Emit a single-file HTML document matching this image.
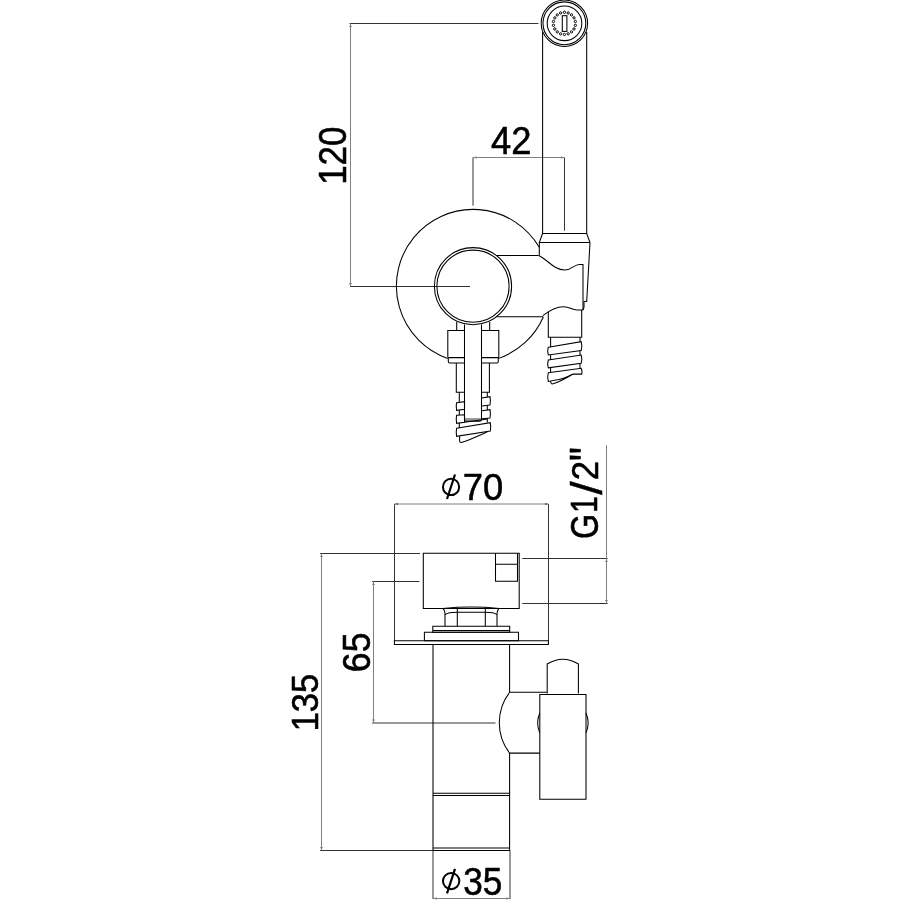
<!DOCTYPE html>
<html><head><meta charset="utf-8">
<style>
html,body{margin:0;padding:0;background:#fff;}
svg{display:block;will-change:transform;}
text{font-family:"Liberation Sans",sans-serif;fill:#000;stroke:#000;stroke-width:0.55px;vector-effect:non-scaling-stroke;}
</style></head>
<body>
<svg width="900" height="900" viewBox="0 0 900 900">
<rect width="900" height="900" fill="#fff"/>
<g fill="none" stroke="#333" stroke-width="1">
  <path id="arrows" fill="#333" stroke="none" d="M350.5 23.5 L349.4 27.0 L351.6 27.0Z M350.5 286.5 L349.4 283.0 L351.6 283.0Z M473 157.5 L476.5 156.4 L476.5 158.6Z M564.5 157.5 L561.0 156.4 L561.0 158.6Z M394.5 504 L398.0 502.9 L398.0 505.1Z M548.5 504 L545.0 502.9 L545.0 505.1Z M606.5 558.5 L605.4 562.0 L607.6 562.0Z M606.5 603.5 L605.4 600.0 L607.6 600.0Z M321.5 553.5 L320.4 557.0 L322.6 557.0Z M321.5 850.5 L320.4 847.0 L322.6 847.0Z M373.5 581.5 L372.4 585.0 L374.6 585.0Z M373.5 723 L372.4 719.5 L374.6 719.5Z M433 898.5 L436.5 897.4 L436.5 899.6Z M510 898.5 L506.5 897.4 L506.5 899.6Z"/>
  <!-- extension lines -->
  <path d="M349.5 23.5 H538.5 M350 286.5 H470"/>
  <path d="M473 157.5 V205.7 M564.5 157.5 V230.7"/>
  <path d="M394.5 504 V641 M548.5 504 V641"/>
  <path d="M522.2 558.5 H607.7 M522.2 603.5 H607.7"/>
  <path d="M320 553.5 H420 M320 850.5 H433"/>
  <path d="M372.2 581.5 H419.4 M372.2 723 H495.5"/>
  <path d="M433 850.5 V899 M510 850.5 V899"/>
</g>
<g fill="none" stroke="#808080" stroke-width="1">
  <path d="M350.5 23.5 V286.5 M473 157.5 H564.5 M394.5 504 H548.5 M606.5 445.2 V603.5 M321.5 553.5 V850.5 M373.5 581.5 V723 M433 898.5 H510"/>
</g>
<g fill="none" stroke="#000" stroke-width="1.05">
  <!-- spray head -->
  <circle cx="564.4" cy="23.3" r="23.2"/>
  <circle cx="564.4" cy="23.3" r="21.4"/>
  <circle cx="564.5" cy="23.3" r="17.3"/>
  <rect x="562.3" y="15.7" width="4.6" height="15.7"/>
  <g stroke-width="1"><circle cx="564.40" cy="12.30" r="1.15"/><circle cx="568.20" cy="12.97" r="1.15"/><circle cx="571.53" cy="14.90" r="1.15"/><circle cx="574.01" cy="17.85" r="1.15"/><circle cx="575.33" cy="21.47" r="1.15"/><circle cx="575.33" cy="25.33" r="1.15"/><circle cx="574.01" cy="28.95" r="1.15"/><circle cx="571.53" cy="31.90" r="1.15"/><circle cx="568.20" cy="33.83" r="1.15"/><circle cx="564.40" cy="34.50" r="1.15"/><circle cx="560.60" cy="33.83" r="1.15"/><circle cx="557.27" cy="31.90" r="1.15"/><circle cx="554.79" cy="28.95" r="1.15"/><circle cx="553.47" cy="25.33" r="1.15"/><circle cx="553.47" cy="21.47" r="1.15"/><circle cx="554.79" cy="17.85" r="1.15"/><circle cx="557.27" cy="14.90" r="1.15"/><circle cx="560.60" cy="12.97" r="1.15"/></g>
  <path d="M542.6 32 V233.7 M586.7 32 V233.7"/>
  <!-- big circle: visible arcs -->
  <path d="M539.26 247.3 A76.7 76.7 0 1 0 447.7 358.47"/>
  <path d="M498.8 358.37 A76.7 76.7 0 0 0 543.43 316.7"/>
  <circle cx="473" cy="286.2" r="38.6"/>
  <circle cx="473" cy="286.2" r="36.1"/>
  <!-- bracket lines -->
  <path d="M496.3 255.5 H538.7 M496.3 316.7 H543"/>
  <!-- holder -->
  <path d="M542.6 233.5 H586.7 L590 242.5 M542.6 233.5 L539.3 242.5 H590 M539.3 242.5 V255.5"/>
  <path d="M538.7 255.5 C548 260 554 270 564.7 270 C572 270 574 264.4 579.3 264.4 H583 V310"/>
  <path d="M590 242.5 L586.7 301.5 L584 301.5 L584 307.5 L583 310"/>
  <path d="M542.8 315.6 C550 310 556 306.7 563.3 306.7 C570 306.7 572 310 576.7 310 H583"/>
  <!-- right hose -->
  <path d="M548.3 312 V337.2 H581.7 V310"/>
  <path d="M550.6 337.2 V347.2 M580 337.2 V341.7"/>
  <path d="M550.6 355 V360 M580 350.6 V355 M550.6 367.8 V372.8 M580 363.3 V368.3"/>
  <path d="M548.3 347.2 L581.2 341.7 Q582.5 346 581.2 350.6 L548.3 355 Q547 351 548.3 347.2 Z"/>
  <path d="M548.3 360 L581.2 355 Q582.5 359 581.2 363.3 L548.3 367.8 Q547 364 548.3 360 Z"/>
  <path d="M548.3 372.8 L581.2 368.3 Q582.5 371 581.8 374.1 H573.3 C568 376 565 378.5 560 379.3 L548.3 381.5 Q547 377 548.3 372.8 Z"/>
  <path d="M550.4 381.2 L551.2 383.3 Q551.8 384.2 553 383.8 C560 382 566 378 573.3 374.1"/>
  <!-- left hose assembly -->
  <path d="M456.7 322 V330.5 M489.7 322 V330.5"/>
  <path d="M464.5 324.6 V419.8 Q464.5 421.1 466 421.1 H480 Q481.5 421.1 481.5 419.8 V324.6"/>
  <path d="M465 419 H481" stroke-width="0.8"/>
  <path d="M464.5 330.5 H447.8 V357.6 M448.3 357.6 H464.5 M448.3 357.6 V361.6 Q448.3 363 449.7 363 H464.5"/>
  <path d="M482 330.5 H498.8 V357.6 M498.3 357.6 H482 M498.3 357.6 V361.6 Q498.3 363 496.9 363 H482"/>
  <path d="M456.3 363 V392.3 H464.5 M489.4 363 V392.3 H481.6"/>
  <path d="M459.3 392.3 V402.2 M459.3 410 V415 M459.3 423.1 V428"/>
  <path d="M487.3 392.3 V396.9 M487.3 405.5 V409.9 M487.3 418.3 V422.6"/>
  <path d="M456.6 402.7 L464.5 401.7 V409.3 L456.6 410.3 Q455.8 406.5 456.6 402.7 Z"/>
  <path d="M456.6 415.3 L464.5 414.7 V422.3 L456.6 423.3 Q455.8 419.3 456.6 415.3 Z"/>
  <path d="M482 398 L490 396.7 Q490.8 401 490 405 L482 406"/>
  <path d="M482 410.7 L490 409.7 Q490.8 414 490 418 L482 418.7"/>
  <path d="M464.5 422.3 L487.3 419"/>
  <path d="M456.6 428.3 L490.3 422.7 Q491.1 427 490.3 431 L456.6 436.3 Q455.8 432.3 456.6 428.3 Z"/>
  <path d="M459.6 436.2 V441 Q459.6 442.4 461.3 442.4 C470 440 478 436 487.3 431.8"/>
  <!-- bottom view -->
  <path d="M423.3 553.3 H519.2 V608.4 H423.3 Z"/>
  <path d="M495.5 553.3 V581.2 H517.5 V553.3 M495.5 564.3 H517.5"/>
  <path d="M442.75 608.4 Q471 605.6 499.3 608.4 M442.75 608.4 Q445 610 445 614.6 V626.3 M499.3 608.4 Q497 610 497 614.6 V626.3"/>
  <path d="M445 614.6 Q448 612.25 457.3 612.25 H485.3 Q494 612.25 497 614.6"/>
  <path d="M457.3 607.3 V626.3 M485.3 607.3 V626.3"/>
  <path d="M432.8 626.3 H509.7 V632.3 H432.8 Z M432.8 630.5 H509.7"/>
  <path d="M424.4 632.3 H518.5 V640.8 H424.4 Z"/>
  <path d="M394.4 640.8 H548.4 V644.5 H394.4 Z"/>
  <path d="M433 644.4 V850.4 H509.6 V753.1 M509.6 692.3 V644.4"/>
  <path d="M433 793.2 H509.6 M433 795.4 H509.6 M433 848 H509.6"/>
  <path d="M546.9 692.3 H509.6 A50 50 0 0 0 509.6 753.1 H539.8"/>
  <path d="M539.8 694.4 H586 V799.3 H539.8 Z"/>
  <path d="M547.2 693.6 V664 Q562.8 654.4 578.4 664 V693.6"/>
  <path d="M539.8 713 Q535.5 722.9 539.8 732.7 M586 713 Q590.3 722.9 586 732.7"/>
</g>
<g>
  <text font-size="100" transform="matrix(0,-0.34984,0.38163,0,346.318,184.824)">120</text>
  <text font-size="100" transform="matrix(0.36346,0,0,0.38566,490.982,153.900)">42</text>
  <text font-size="100" transform="matrix(0.36373,0,0,0.37668,462.690,500.023)">70</text>
  <text font-size="100" transform="matrix(0,-0.32184,0.39011,0,597.510,539.009)">G</text>
  <text font-size="100" transform="matrix(0,-0.29595,0.37236,0,597.300,512.820)">1</text>
  <text font-size="100" transform="matrix(0,-0.48288,0.43946,0,602.161,494.800)">/</text>
  <text font-size="100" transform="matrix(0,-0.34615,0.37563,0,597.900,480.231)">2</text>
  <text font-size="100" transform="matrix(0,-0.38889,0.48372,0,603.256,460.903)">&quot;</text>
  <text font-size="100" transform="matrix(0,-0.35686,0.38587,0,369.914,672.184)">65</text>
  <text font-size="100" transform="matrix(0,-0.34396,0.37597,0,317.924,731.280)">135</text>
  <text font-size="100" transform="matrix(0.35157,0,0,0.38728,463.182,894.713)">35</text>
  <g fill="none" stroke="#000" stroke-width="2">
    <ellipse cx="451.05" cy="486.9" rx="8.1" ry="8.2"/><path d="M455 474.5 L447 499" stroke-width="2.2"/>
    <ellipse cx="451.15" cy="881.1" rx="8.2" ry="8.1"/><path d="M455 868.8 L447 893.4" stroke-width="2.2"/>
  </g>
</g>
</svg>
</body></html>
